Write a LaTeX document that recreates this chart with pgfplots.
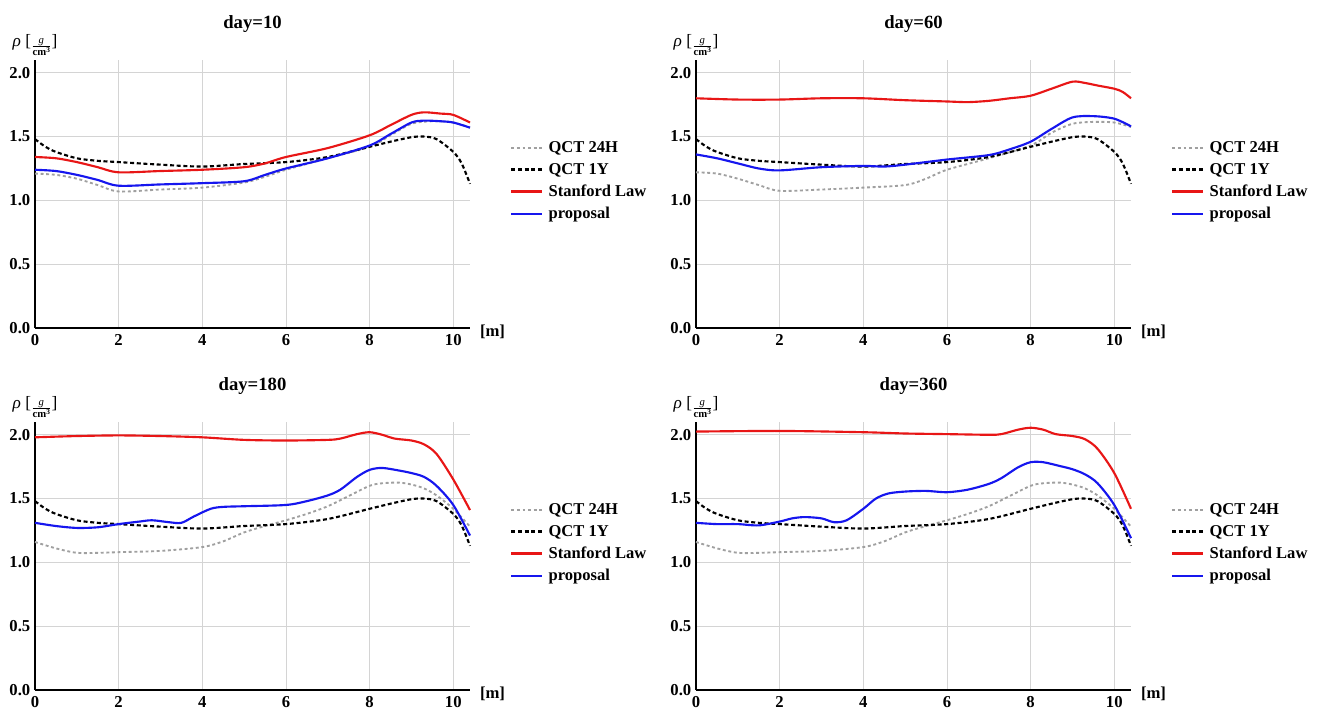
\documentclass[border=0pt]{standalone}
\usepackage{pgfplots}
\pgfplotsset{compat=1.18}
\usepackage{fontspec}
\setmainfont{Liberation Serif}

\definecolor{qgray}{RGB}{160,160,160}
\definecolor{sred}{RGB}{232,22,22}
\definecolor{pblue}{RGB}{22,22,238}
\definecolor{gridc}{RGB}{212,212,212}

% ---------------- data ----------------
\pgfplotstableread{
x y
0 1.48
0.25 1.42
0.5 1.38
1 1.33
1.5 1.31
2 1.30
3 1.28
4 1.265
5 1.285
6 1.30
7 1.34
8 1.42
8.5 1.46
9 1.495
9.3 1.50
9.6 1.48
10 1.38
10.2 1.29
10.4 1.13
}\qctoney

\pgfplotstableread{
x y
0 1.21
0.5 1.20
1 1.17
1.5 1.12
2 1.07
3 1.085
4 1.10
5 1.14
5.5 1.185
6 1.24
7 1.33
8 1.42
8.5 1.51
9 1.60
9.5 1.62
10 1.61
10.4 1.57
}\pAgray
\pgfplotstableread{
x y
0 1.34
0.5 1.33
1 1.30
1.5 1.26
2 1.22
3 1.23
4 1.24
5 1.26
5.5 1.29
6 1.34
7 1.41
8 1.51
8.5 1.59
9 1.67
9.3 1.69
9.7 1.68
10 1.67
10.4 1.61
}\pAred
\pgfplotstableread{
x y
0 1.24
0.5 1.23
1 1.20
1.5 1.16
2 1.115
3 1.125
4 1.135
5 1.15
5.5 1.20
6 1.25
7 1.33
8 1.43
8.5 1.52
9 1.61
9.3 1.625
9.7 1.62
10 1.61
10.4 1.57
}\pAblue

\pgfplotstableread{
x y
0 1.22
0.5 1.21
1 1.17
1.5 1.12
2 1.075
3 1.085
4 1.10
5 1.12
5.5 1.17
6 1.24
7 1.33
8 1.43
8.5 1.53
9 1.60
9.5 1.615
10 1.61
10.4 1.575
}\pBgray
\pgfplotstableread{
x y
0 1.80
1 1.79
2 1.79
3 1.80
4 1.80
5 1.785
6 1.775
6.5 1.77
7 1.78
7.5 1.80
8 1.82
8.5 1.875
9 1.93
9.3 1.92
9.6 1.90
10 1.875
10.2 1.85
10.4 1.80
}\pBred
\pgfplotstableread{
x y
0 1.36
0.5 1.33
1 1.29
1.5 1.25
2 1.235
3 1.26
4 1.27
4.5 1.265
5 1.28
6 1.32
7 1.355
7.5 1.40
8 1.46
8.5 1.56
9 1.65
9.5 1.66
10 1.64
10.4 1.58
}\pBblue

\pgfplotstableread{
x y
0 1.16
0.5 1.11
1 1.075
1.5 1.075
2 1.08
3 1.09
4 1.12
4.5 1.165
5 1.235
5.5 1.285
6 1.33
6.5 1.38
7 1.44
7.5 1.52
8 1.60
8.3 1.62
8.7 1.625
9 1.61
9.3 1.58
9.6 1.525
10 1.42
10.4 1.28
}\pCgray
\pgfplotstableread{
x y
0 1.98
1 1.99
2 1.995
3 1.99
4 1.98
5 1.96
6 1.955
7 1.96
7.3 1.97
7.7 2.005
8 2.02
8.3 2.00
8.6 1.97
9 1.955
9.3 1.925
9.6 1.85
10 1.65
10.4 1.41
}\pCred
\pgfplotstableread{
x y
0 1.31
0.5 1.285
1 1.27
1.5 1.275
2 1.30
2.5 1.32
2.8 1.33
3.2 1.315
3.5 1.31
3.8 1.36
4.2 1.42
4.5 1.435
5 1.44
6 1.45
6.5 1.48
7 1.525
7.3 1.57
7.7 1.67
8 1.725
8.3 1.74
8.7 1.72
9 1.70
9.3 1.67
9.6 1.60
10 1.45
10.4 1.21
}\pCblue

\pgfplotstableread{
x y
0 2.025
2 2.03
4 2.02
5 2.01
6 2.005
7 2.00
7.3 2.005
7.7 2.04
8 2.055
8.3 2.04
8.6 2.005
9 1.99
9.3 1.965
9.6 1.89
10 1.70
10.4 1.42
}\pDred
\pgfplotstableread{
x y
0 1.31
0.5 1.30
1 1.30
1.5 1.29
2 1.32
2.3 1.345
2.6 1.355
3 1.345
3.3 1.315
3.6 1.33
4 1.42
4.3 1.50
4.6 1.54
5 1.555
5.5 1.56
6 1.55
6.5 1.57
7 1.615
7.3 1.66
7.7 1.745
8 1.785
8.3 1.785
8.7 1.755
9 1.73
9.3 1.69
9.6 1.62
10 1.45
10.4 1.19
}\pDblue

\pgfplotsset{
  panel/.style={
    scale only axis,
    width=326.25pt, height=201pt,
    xmin=0, xmax=10.4, ymin=0, ymax=2.1,
    axis lines=left,
    axis line style={line width=1.5pt, -},
    xtick={0,2,4,6,8,10},
    ytick={0,0.5,1,1.5,2},
    major tick length=0pt,
    yticklabel style={/pgf/number format/fixed, /pgf/number format/fixed zerofill, /pgf/number format/precision=1},
    /pgf/number format/assume math mode=true,
    ticklabel style={font=\fontsize{12.5}{13}\selectfont\bfseries},
    xticklabel style={yshift=-1pt},
    grid=major,
    grid style={gridc, line width=0.6pt},
    title style={font=\fontsize{14}{15}\selectfont\bfseries, at={(0.5,1)}, anchor=center, yshift=21pt},
    xlabel={[m]},
    xlabel style={font=\fontsize{12.5}{13}\selectfont\bfseries, at={(1,0)}, anchor=west, xshift=4pt, yshift=-3pt},
    legend style={at={(1,1)}, anchor=north west, xshift=30pt, yshift=-59.5pt,
      draw=none, fill=none, inner sep=0pt, row sep=3.7pt,
      font=\fontsize{12.4}{14}\selectfont\bfseries,
      nodes={inner sep=1.4pt},
      /tikz/every odd column/.append style={column sep=3pt}},
    legend cell align=left,
    legend image code/.code={\draw[#1] (0cm,0cm) -- (0.8cm,0cm);},
    every axis plot/.append style={smooth},
    clip=false,
  },
  g24/.style={qgray, line width=1.4pt, dash pattern=on 2.2pt off 2pt},
  g1y/.style={black, line width=1.6pt, dash pattern=on 3pt off 2pt},
  gsr/.style={sred, line width=1.6pt},
  gpr/.style={pblue, line width=1.6pt},
}

\newcommand{\rholabel}{\node[anchor=center, font=\fontsize{13}{14}\selectfont] at (rel axis cs:0,1) [yshift=11pt, xshift=0pt] {\textit{ρ} [\raisebox{-0.45ex}{$\frac{\mbox{\fontsize{8}{8}\selectfont\itshape g}}{\mbox{\fontsize{8}{8}\selectfont\bfseries cm\raisebox{0.6ex}{\fontsize{5.5}{6}\selectfont 3}}}$}]};}

\begin{document}
\begin{tikzpicture}
\path[use as bounding box] (0,0) rectangle (990pt,-532.5pt);

% day=10
\begin{axis}[panel, at={(26.25pt,-246pt)}, anchor=origin, title={day=10}]
\addplot[g24] table {\pAgray};
\addplot[g1y] table {\qctoney};
\addplot[gsr] table {\pAred};
\addplot[gpr] table {\pAblue};
\legend{QCT 24H, QCT 1Y, Stanford Law, proposal}
\rholabel
\end{axis}

% day=60
\begin{axis}[panel, at={(522pt,-246pt)}, anchor=origin, title={day=60}]
\addplot[g24] table {\pBgray};
\addplot[g1y] table {\qctoney};
\addplot[gsr] table {\pBred};
\addplot[gpr] table {\pBblue};
\legend{QCT 24H, QCT 1Y, Stanford Law, proposal}
\rholabel
\end{axis}

% day=180
\begin{axis}[panel, at={(26.25pt,-517.5pt)}, anchor=origin, title={day=180}]
\addplot[g24] table {\pCgray};
\addplot[g1y] table {\qctoney};
\addplot[gsr] table {\pCred};
\addplot[gpr] table {\pCblue};
\legend{QCT 24H, QCT 1Y, Stanford Law, proposal}
\rholabel
\end{axis}

% day=360
\begin{axis}[panel, at={(522pt,-517.5pt)}, anchor=origin, title={day=360}]
\addplot[g24] table {\pCgray};
\addplot[g1y] table {\qctoney};
\addplot[gsr] table {\pDred};
\addplot[gpr] table {\pDblue};
\legend{QCT 24H, QCT 1Y, Stanford Law, proposal}
\rholabel
\end{axis}
\end{tikzpicture}
\end{document}
